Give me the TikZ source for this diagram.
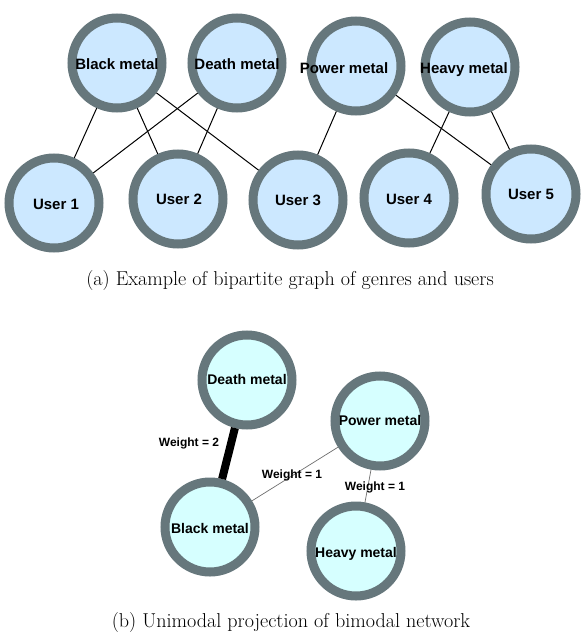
\documentclass[tikz,border=0pt]{standalone}
\usepackage{fontspec}
\newfontfamily\arialf{Liberation Sans}
\definecolor{rimgrey}{RGB}{102,119,124}
\definecolor{fillA}{RGB}{204,232,255}
\definecolor{fillB}{RGB}{214,255,255}
\definecolor{thinedge}{RGB}{110,110,110}
\tikzset{
  gnode/.style={circle, draw=rimgrey, line width=9pt, minimum size=90pt, inner sep=0pt},
  anode/.style={gnode, fill=fillA},
  bnode/.style={gnode, fill=fillB},
  alabel/.style={font=\arialf\bfseries\fontsize{15}{17}\selectfont, inner sep=0pt},
  blabel/.style={font=\arialf\bfseries\fontsize{14}{16}\selectfont, inner sep=0pt},
  wlabel/.style={font=\arialf\bfseries\fontsize{12}{14}\selectfont, inner sep=0pt},
  caption/.style={font=\fontsize{20.1}{24}\selectfont, inner sep=0pt},
  aedge/.style={black, line width=1pt},
  thin1/.style={thinedge, line width=0.7pt},
  thick2/.style={black, line width=8pt}
}
\begin{document}
\begin{tikzpicture}[x=1pt,y=-1pt]
\useasboundingbox (0,0) rectangle (581,634);
% (a) bipartite graph
\node[anode] (bm) at (117,63) {};
\node[anode] (dm) at (237,63) {};
\node[anode] (pm) at (356,66) {};
\node[anode] (hm) at (470,67) {};
\node[anode] (u1) at (54,203) {};
\node[anode] (u2) at (178,199) {};
\node[anode] (u3) at (298,200) {};
\node[anode] (u4) at (409,198) {};
\node[anode] (u5) at (531,194) {};
\draw[aedge] (bm) -- (u1);
\draw[aedge] (bm) -- (u2);
\draw[aedge] (bm) -- (u3);
\draw[aedge] (dm) -- (u1);
\draw[aedge] (dm) -- (u2);
\draw[aedge] (pm) -- (u3);
\draw[aedge] (pm) -- (u5);
\draw[aedge] (hm) -- (u4);
\draw[aedge] (hm) -- (u5);
\node[alabel] (tbm) at (117,64) {Black metal};
\node[alabel] (tdm) at (237,64) {Death metal};
\node[alabel] (tpm) at (344,68) {Power metal};
\node[alabel] (thm) at (464,70) {Heavy metal};
\node[alabel] (tu1) at (56,204) {User 1};
\node[alabel] (tu2) at (179,199) {User 2};
\node[alabel] (tu3) at (298,200) {User 3};
\node[alabel] (tu4) at (409,199) {User 4};
\node[alabel] (tu5) at (531,194) {User 5};
\node[caption] (capa) at (290,280) {(a) Example of bipartite graph of genres and users};
% (b) projection
\node[bnode] (pdm) at (247,380) {};
\node[bnode] (ppm) at (380,421) {};
\node[bnode] (pbm) at (210,527) {};
\node[bnode] (phm) at (356,551) {};
\draw[thick2] (pdm) -- (pbm);
\draw[thin1] (pbm) -- (ppm);
\draw[thin1] (ppm) -- (phm);
\node[blabel] (tpdm) at (247,379) {Death metal};
\node[blabel] (tppm) at (380,420) {Power metal};
\node[blabel] (tpbm) at (210,528) {Black metal};
\node[blabel] (tphm) at (356,554) {Heavy metal};
\node[wlabel] (w2) at (189,443) {Weight = 2};
\node[wlabel] (w1a) at (292,475) {Weight = 1};
\node[wlabel] (w1b) at (375,487) {Weight = 1};
\node[caption] (capb) at (291,622) {(b) Unimodal projection of bimodal network};
\end{tikzpicture}
\end{document}
